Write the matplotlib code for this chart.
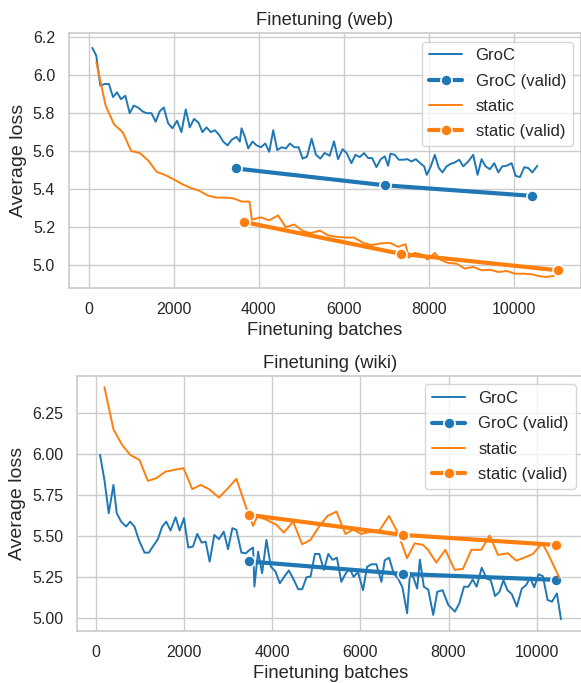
import matplotlib
matplotlib.use("Agg")
import matplotlib.pyplot as plt
import seaborn as sns

# web: GroC training loss (logged ~every 100 batches)
web_groc_x = [86, 180, 275, 376, 478, 573, 667, 761, 863, 965, 1059, 1161, 1263, 1357,
              1475, 1576, 1670, 1765, 1867, 1969, 2078, 2180, 2282, 2376, 2478, 2580,
              2675, 2769, 2871, 2965, 3067, 3161, 3263, 3365, 3475, 3553, 3592, 3671,
              3749, 3851, 3945, 4047, 4149, 4243, 4337, 4431, 4533, 4635, 4729, 4831,
              4933, 5027, 5129, 5239, 5341, 5443, 5545, 5663, 5765, 5859, 5969, 6063,
              6173, 6267, 6369, 6471, 6565, 6659, 6761, 6863, 6957, 7035, 7090, 7192,
              7286, 7388, 7490, 7584, 7686, 7788, 7882, 7945, 8039, 8133, 8227, 8314,
              8408, 8510, 8604, 8706, 8800, 8918, 9035, 9137, 9231, 9325, 9427, 9529,
              9624, 9718, 9820, 9937, 10031, 10133, 10235, 10329, 10424, 10541]
web_groc_y = [6.145, 6.104, 5.945, 5.954, 5.954, 5.885, 5.91, 5.874, 5.892, 5.80, 5.84,
              5.83, 5.81, 5.80, 5.80, 5.755, 5.81, 5.83, 5.747, 5.72, 5.76, 5.70, 5.82,
              5.725, 5.77, 5.75, 5.70, 5.725, 5.70, 5.71, 5.685, 5.65, 5.63, 5.66, 5.675,
              5.65, 5.72, 5.675, 5.614, 5.65, 5.63, 5.62, 5.64, 5.596, 5.71, 5.605, 5.62,
              5.614, 5.64, 5.62, 5.62, 5.56, 5.57, 5.665, 5.58, 5.56, 5.59, 5.575, 5.651,
              5.557, 5.61, 5.589, 5.536, 5.58, 5.568, 5.589, 5.563, 5.563, 5.515, 5.557,
              5.572, 5.522, 5.586, 5.58, 5.554, 5.554, 5.557, 5.545, 5.557, 5.536, 5.519,
              5.474, 5.519, 5.58, 5.51, 5.487, 5.519, 5.533, 5.54, 5.554, 5.519, 5.545,
              5.58, 5.474, 5.557, 5.519, 5.504, 5.536, 5.487, 5.519, 5.522, 5.536, 5.469,
              5.462, 5.515, 5.51, 5.487, 5.522]

# web: static training loss (logged ~every 200 batches)
web_static_x = [180, 400, 600, 800, 1000, 1200, 1400, 1600, 1800, 2000, 2200, 2400, 2600,
                2800, 3000, 3200, 3400, 3600, 3780, 3835, 4040, 4240, 4450, 4630, 4830,
                5030, 5220, 5430, 5630, 5820, 6016, 6235, 6447, 6643, 6863, 7075, 7271,
                7443, 7522, 7663, 7820, 7961, 8133, 8251, 8447, 8643, 8839, 9035, 9231,
                9427, 9624, 9820, 10016, 10212, 10408, 10604, 10737, 10930]
web_static_y = [6.07, 5.84, 5.74, 5.70, 5.60, 5.59, 5.55, 5.49, 5.473, 5.45, 5.425, 5.405,
                5.39, 5.365, 5.354, 5.354, 5.35, 5.333, 5.333, 5.237, 5.25, 5.234, 5.26,
                5.198, 5.212, 5.177, 5.166, 5.18, 5.154, 5.147, 5.143, 5.143, 5.115, 5.103,
                5.112, 5.115, 5.094, 5.108, 5.037, 5.062, 5.053, 5.027, 5.062, 5.027,
                5.009, 5.005, 4.979, 4.988, 4.970, 4.973, 4.961, 4.966, 4.952, 4.952,
                4.949, 4.938, 4.935, 4.94]

web_groc_valid_x = [3451, 6957, 10424]
web_groc_valid_y = [5.508, 5.419, 5.363]
web_static_valid_x = [3655, 7333, 11020]
web_static_valid_y = [5.225, 5.057, 4.97]

# wiki: GroC training loss
wiki_groc_x = [98, 197, 295, 402, 477, 576, 689, 780, 879, 977, 1106, 1205, 1295, 1409,
               1508, 1598, 1697, 1811, 1902, 2000, 2098, 2205, 2303, 2402, 2492, 2583,
               2689, 2795, 2902, 3000, 3098, 3189, 3303, 3402, 3492, 3568, 3598, 3682,
               3773, 3871, 3970, 4076, 4174, 4288, 4379, 4492, 4591, 4682, 4780, 4871,
               4970, 5068, 5174, 5273, 5371, 5469, 5568, 5666, 5757, 5848, 5947, 6061,
               6152, 6250, 6364, 6478, 6553, 6652, 6758, 6857, 6955, 7061, 7122, 7198,
               7289, 7350, 7440, 7539, 7653, 7744, 7865, 7994, 8146, 8244, 8350, 8449,
               8547, 8638, 8752, 8866, 8957, 9055, 9154, 9245, 9336, 9434, 9548, 9662,
               9760, 9851, 9942, 10041, 10140, 10246, 10345, 10458, 10549]
wiki_groc_y = [5.996, 5.843, 5.64, 5.813, 5.64, 5.589, 5.559, 5.589, 5.559, 5.478, 5.40,
               5.40, 5.437, 5.482, 5.559, 5.589, 5.535, 5.616, 5.535, 5.61, 5.431, 5.437,
               5.514, 5.461, 5.467, 5.345, 5.508, 5.482, 5.528, 5.421, 5.549, 5.539, 5.40,
               5.396, 5.417, 5.431, 5.193, 5.406, 5.274, 5.478, 5.315, 5.285, 5.213,
               5.258, 5.291, 5.234, 5.177, 5.177, 5.25, 5.254, 5.392, 5.392, 5.295, 5.392,
               5.356, 5.369, 5.222, 5.272, 5.302, 5.252, 5.282, 5.171, 5.313, 5.329,
               5.329, 5.222, 5.353, 5.369, 5.272, 5.242, 5.188, 5.03, 5.262, 5.252, 5.181,
               5.357, 5.192, 5.175, 5.02, 5.161, 5.171, 5.081, 5.04, 5.091, 5.192, 5.192,
               5.236, 5.192, 5.308, 5.242, 5.232, 5.135, 5.161, 5.232, 5.171, 5.147,
               5.071, 5.181, 5.202, 5.248, 5.188, 5.268, 5.256, 5.111, 5.101, 5.151, 4.994]

# wiki: static training loss
wiki_static_x = [197, 402, 598, 780, 992, 1182, 1371, 1583, 1788, 1992, 2189, 2379, 2568,
                 2795, 3000, 3189, 3417, 3568, 3661, 3873, 4100, 4265, 4476, 4680, 4870,
                 5065, 5255, 5459, 5662, 5836, 6024, 6236, 6440, 6651, 6855, 7059, 7232,
                 7421, 7534, 7723, 7927, 8138, 8327, 8516, 8742, 8931, 9120, 9346, 9535,
                 9724, 9913, 10124, 10252, 10516]
wiki_static_y = [6.409, 6.152, 6.057, 5.996, 5.965, 5.837, 5.854, 5.894, 5.905, 5.915,
                 5.787, 5.813, 5.787, 5.736, 5.793, 5.85, 5.671, 5.563, 5.62, 5.60, 5.569,
                 5.522, 5.589, 5.451, 5.477, 5.559, 5.624, 5.65, 5.514, 5.54, 5.514, 5.528,
                 5.538, 5.624, 5.518, 5.366, 5.457, 5.447, 5.417, 5.339, 5.417, 5.295,
                 5.301, 5.417, 5.417, 5.504, 5.386, 5.396, 5.351, 5.37, 5.392, 5.457,
                 5.396, 5.244]

wiki_groc_valid_x = [3477, 6967, 10426]
wiki_groc_valid_y = [5.346, 5.27, 5.234]
wiki_static_valid_x = [3477, 6967, 10426]
wiki_static_valid_y = [5.63, 5.508, 5.447]

sns.set_theme(style="whitegrid")
plt.rcParams['font.family'] = ['Liberation Sans', 'DejaVu Sans']

blue = '#1f77b4'
orange = '#ff7f0e'

fig = plt.figure(figsize=(5.81, 6.83), dpi=100)
W, H = 581.0, 683.0
ax1 = fig.add_axes([69 / W, (H - 287.7) / H, 512 / W, 254.4 / H])
ax2 = fig.add_axes([77 / W, (H - 631) / H, 507 / W, 255 / H])


def draw(ax, title, gx, gy, sx, sy, gvx, gvy, svx, svy, ylim):
    ax.plot(gx, gy, color=blue, lw=1.4, label='GroC')
    ax.plot(gvx, gvy, color=blue, lw=3, marker='o', ms=8, mec='white', mew=1.2,
            label='GroC (valid)')
    ax.plot(sx, sy, color=orange, lw=1.4, label='static')
    ax.plot(svx, svy, color=orange, lw=3, marker='o', ms=8, mec='white', mew=1.2,
            label='static (valid)')
    ax.set_ylim(*ylim)
    ax.set_title(title, fontsize=13.2, color='.15')
    ax.set_xlabel('Finetuning batches', fontsize=13.2, color='.15')
    ax.set_ylabel('Average loss', fontsize=14, color='.15')
    ax.tick_params(labelsize=11.5, length=0, pad=10, labelcolor='.15')
    leg = ax.legend(loc='upper right', fontsize=12, frameon=True, numpoints=1,
                    labelspacing=0.62)
    for t in leg.get_texts():
        t.set_color('.15')


draw(ax1, 'Finetuning (web)', web_groc_x, web_groc_y, web_static_x, web_static_y,
     web_groc_valid_x, web_groc_valid_y, web_static_valid_x, web_static_valid_y,
     (4.878, 6.222))
draw(ax2, 'Finetuning (wiki)', wiki_groc_x, wiki_groc_y, wiki_static_x, wiki_static_y,
     wiki_groc_valid_x, wiki_groc_valid_y, wiki_static_valid_x, wiki_static_valid_y,
     (4.922, 6.477))
ax2.set_yticks([5.0, 5.25, 5.5, 5.75, 6.0, 6.25])

fig.savefig('out.png', dpi=100)
